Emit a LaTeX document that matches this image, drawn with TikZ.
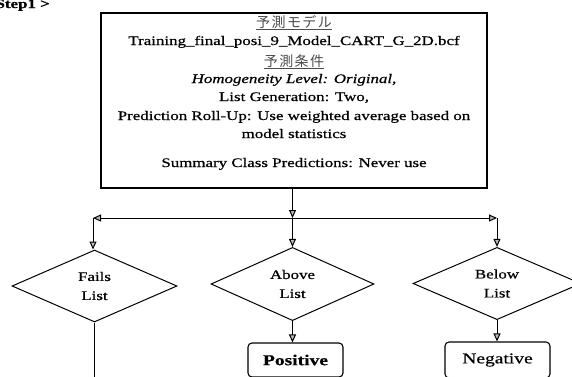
\documentclass[tikz,border=0pt]{standalone}
\usepackage{fontspec}
\setmainfont[FakeStretch=1.3,FakeBold=0.6]{Liberation Serif}
\newfontfamily\jp[LetterSpace=10]{Noto Sans CJK JP}
\usetikzlibrary{shapes.geometric,arrows.meta}
\begin{document}
\begin{tikzpicture}[x=1pt,y=-1pt,
  every node/.style={font=\fontsize{13}{19}\selectfont, inner sep=0pt},
  box/.style={draw, line width=1.3pt, minimum width=386pt, minimum height=175pt},
  dia/.style={draw, diamond, line width=1pt, align=center, minimum width=165pt, minimum height=72pt},
  res/.style={draw, rounded corners=4pt, line width=1.1pt, font=\fontsize{15}{17}\selectfont},
  arr/.style={line width=1pt, -{Triangle[length=8pt,width=7pt,fill=gray!55]}},
  ln/.style={line width=1pt},
  txt/.style={anchor=base},
  jptxt/.style={anchor=base, font=\jp\fontsize{14}{16}\selectfont, text=black!70},
]
\fill[white] (0,0) rectangle (572,376);
\useasboundingbox (0,0) rectangle (572,376);
\clip (0,0) rectangle (572,376);
\node[font=\bfseries\fontsize{13}{15}\selectfont, anchor=base east] (step) at (50,8) {Step1 >};
\node[box] (top) at (294,100.5) {};
\node[jptxt] (t1) at (294,27) {\underline{予測モデル}};
\node[txt] (t2) at (294,45) {Training\_final\_posi\_9\_Model\_CART\_G\_2D.bcf};
\node[jptxt] (t3) at (294,66) {\underline{予測条件}};
\node[txt] (t4) at (294,83) {\itshape Homogeneity Level: Original,};
\node[txt] (t5) at (294,101) {List Generation: Two,};
\node[txt] (t6) at (294,120) {Prediction Roll-Up: Use weighted average based on};
\node[txt] (t7) at (294,138) {model statistics};
\node[txt] (t8) at (294,167) {Summary Class Predictions: Never use};

\node[dia] (fails) at (94.5,286) {Fails\\List};
\node[dia, minimum width=163pt] (above) at (292.5,284) {Above\\List};
\node[dia, minimum width=168pt, minimum height=69pt] (below) at (497,283.5) {Below\\List};

\node[res, minimum width=95pt, minimum height=34pt] (pos) at (295.5,360) {\bfseries Positive};
\node[res, minimum width=105pt, minimum height=36pt] (neg) at (497.5,360) {Negative};

\coordinate (split) at (292.5,218);
\coordinate (cl) at (93,218);
\coordinate (cr) at (497,218);
\coordinate (fend) at (94.5,390);

\draw[arr] (top.south -| split) -- (split);
\draw[arr] (split) -- (cl);
\draw[arr] (split) -- (cr);
\draw[arr] (cl) -- (cl |- fails.north);
\draw[arr] (split) -- (above.north);
\draw[arr] (cr) -- (below.north);
\draw[arr] (above.south) -- (pos.north -| above.south);
\draw[arr] (below.south) -- (neg.north -| below.south);
\draw[ln] (fails.south) -- (fend);
\end{tikzpicture}
\end{document}
